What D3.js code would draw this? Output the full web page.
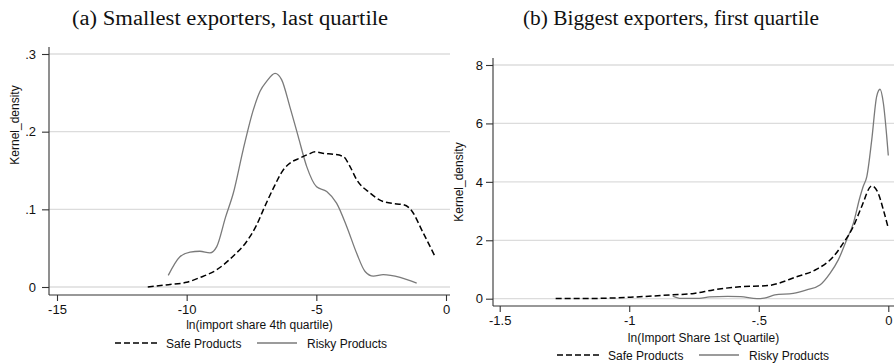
<!DOCTYPE html>
<html>
<head>
<meta charset="utf-8">
<script src="https://cdn.jsdelivr.net/npm/d3@7"></script>
<style>
  body { margin: 0; background: #fff; }
  text { font-family: "Liberation Sans", Arial, sans-serif; fill: #111; }
  .title { font-family: "Liberation Serif", "Times New Roman", serif; }
</style>
</head>
<body>
<div id="chart-div"></div>
<script>
// panel (a): smallest exporters, last quartile  -- [x, density]
var safeA = [[-11.5,0.000],[-10.7,0.003],[-10.0,0.006],[-9.5,0.012],[-8.85,0.022],[-8.2,0.040],[-7.7,0.058],[-7.3,0.080],
  [-7.05,0.099],[-6.66,0.127],[-6.27,0.151],[-5.95,0.161],[-5.63,0.166],[-5.3,0.171],[-5.05,0.174],[-4.7,0.172],[-4.35,0.171],
  [-3.96,0.168],[-3.7,0.155],[-3.44,0.138],[-2.93,0.121],[-2.42,0.110],[-1.9,0.107],[-1.64,0.106],[-1.39,0.101],[-0.87,0.069],[-0.42,0.039]];
var riskyA = [[-10.71,0.015],[-10.26,0.039],[-9.87,0.045],[-9.49,0.046],[-9.1,0.044],[-8.84,0.052],[-8.5,0.090],[-8.2,0.121],
  [-7.82,0.177],[-7.43,0.228],[-7.17,0.252],[-6.91,0.265],[-6.59,0.275],[-6.34,0.267],[-6.02,0.232],[-5.70,0.194],[-5.37,0.155],
  [-4.99,0.129],[-4.6,0.123],[-4.22,0.108],[-3.83,0.078],[-3.44,0.043],[-3.12,0.020],[-2.8,0.014],[-2.42,0.016],[-1.77,0.0125],[-1.13,0.005]];

// panel (b): biggest exporters, first quartile
var safeB = [[-1.284,0.01],[-1.136,0.01],[-0.995,0.05],[-0.84,0.13],[-0.75,0.18],[-0.676,0.30],[-0.573,0.41],[-0.465,0.45],
  [-0.354,0.75],[-0.276,1.01],[-0.212,1.44],[-0.174,1.90],[-0.135,2.47],[-0.103,3.15],[-0.064,3.86],[-0.039,3.61],[-0.019,3.04],[0,2.41]];
var riskyB = [[-0.832,0.09],[-0.80,0.01],[-0.73,0.01],[-0.69,0.06],[-0.62,0.08],[-0.57,0.07],[-0.507,0.0],[-0.47,0.04],[-0.438,0.13],
  [-0.367,0.18],[-0.315,0.30],[-0.264,0.47],[-0.225,0.87],[-0.193,1.33],[-0.161,2.01],[-0.135,2.58],[-0.109,3.49],[-0.097,3.84],
  [-0.083,4.18],[-0.064,5.43],[-0.045,6.92],[-0.032,7.17],[-0.019,6.69],[-0.006,5.55],[0,4.9]];

var titles = ["(a) Smallest exporters, last quartile", "(b) Biggest exporters, first quartile"];
var xTitles = ["ln(import share 4th quartile)", "ln(Import Share 1st Quartile)"];
var yTitle = "Kernel_density";
var legendLabels = ["Safe Products", "Risky Products"];
var xTicksA = [-15, -10, -5, 0], yTicksA = [0, 0.1, 0.2, 0.3];
var xTicksB = [-1.5, -1, -0.5, 0], yTicksB = [0, 2, 4, 6, 8];

var svg = d3.select("#chart-div").append("svg").attr("width", 894).attr("height", 363);

function fmt(v){
  if(v == 0) return "0";
  var s = String(+v.toFixed(2));
  return s.replace(/^(-?)0\./, "$1.");
}

function drawPanel(p){
  var x = d3.scaleLinear().domain(p.xDomain).range(p.xRange);
  var y = d3.scaleLinear().domain(p.yDomain).range(p.yRange);
  var g = svg.append("g");

  g.append("text").attr("class","title")
    .attr("x", p.titleX).attr("y", 25)
    .attr("text-anchor","middle")
    .style("font-size","20px")
    .attr("textLength", p.titleLen).attr("lengthAdjust","spacingAndGlyphs")
    .text(p.title);

  // gridlines
  g.selectAll(".grid").data(p.yTicks).enter().append("line")
    .attr("x1", p.left).attr("x2", p.right)
    .attr("y1", function(d){return y(d)}).attr("y2", function(d){return y(d)})
    .style("stroke","#dcdcdc").style("stroke-width", 1.3);

  // axes
  var yAxis = d3.axisLeft(y).tickValues(p.yTicks).tickSize(7).tickPadding(p.yPad).tickFormat(fmt);
  var xAxis = d3.axisBottom(x).tickValues(p.xTicks).tickSize(6).tickPadding(4).tickFormat(fmt);
  var ya = g.append("g").attr("transform","translate(" + p.left + ",0)").call(yAxis);
  var xa = g.append("g").attr("transform","translate(0," + p.bottom + ")").call(xAxis);
  ya.select(".domain").attr("d", "M0," + p.top + "V" + p.bottom);
  xa.select(".domain").attr("d", "M" + p.left + ",0H" + p.right);
  [ya, xa].forEach(function(a){
    a.selectAll("path, line").style("stroke","#333").style("stroke-width", 1.1);
    a.selectAll("text").style("font-size","13px").style("font-family","Liberation Sans, Arial, sans-serif").style("fill","#111");
  });

  g.append("text")
    .attr("transform","translate(" + p.yTitleX + "," + p.yTitleY + ") rotate(-90)")
    .attr("text-anchor","middle").style("font-size","12px")
    .text(yTitle);

  g.append("text")
    .attr("x", (p.left + p.right) / 2 + 10).attr("y", p.xTitleY)
    .attr("text-anchor","middle").style("font-size","12px")
    .text(p.xTitle);

  var line = d3.line().x(function(d){return x(d[0])}).y(function(d){return y(d[1])}).curve(d3.curveMonotoneX);

  g.append("path").datum(p.risky).attr("d", line)
    .style("fill","none").style("stroke","#7a7a7a").style("stroke-width", 1.3);
  g.append("path").datum(p.safe).attr("d", line)
    .style("fill","none").style("stroke","#000").style("stroke-width", 1.5).style("stroke-dasharray","6,3");

  // legend
  var lg = g.append("g").attr("transform","translate(" + p.legendX + "," + p.legendY + ")");
  lg.append("line").attr("x1",0).attr("x2",42).attr("y1",0).attr("y2",0)
    .style("stroke","#000").style("stroke-width",1.5).style("stroke-dasharray","6,3");
  lg.append("text").attr("x",51).attr("y",4.5).style("font-size","12px").text(legendLabels[0]);
  lg.append("line").attr("x1",142).attr("x2",182).attr("y1",0).attr("y2",0)
    .style("stroke","#7a7a7a").style("stroke-width",1.3);
  lg.append("text").attr("x",192).attr("y",4.5).style("font-size","12px").text(legendLabels[1]);
}

drawPanel({
  title: titles[0], titleX: 230, titleLen: 316,
  xDomain: [-15, 0], xRange: [57, 446], yDomain: [0, 0.3], yRange: [287, 54],
  left: 49, right: 450, top: 47, bottom: 295, yPad: 6,
  xTicks: xTicksA, yTicks: yTicksA,
  yTitleX: 18.5, yTitleY: 125, xTitle: xTitles[0], xTitleY: 329,
  legendX: 115, legendY: 343,
  safe: safeA, risky: riskyA
});

drawPanel({
  title: titles[1], titleX: 671, titleLen: 296,
  xDomain: [-1.5, 0], xRange: [499.7, 888.3], yDomain: [0, 8], yRange: [298.7, 65],
  left: 493, right: 894, top: 58, bottom: 306, yPad: 3,
  xTicks: xTicksB, yTicks: yTicksB,
  yTitleX: 463, yTitleY: 182, xTitle: xTitles[1], xTitleY: 342,
  legendX: 557, legendY: 355,
  safe: safeB, risky: riskyB
});
</script>
</body>
</html>
